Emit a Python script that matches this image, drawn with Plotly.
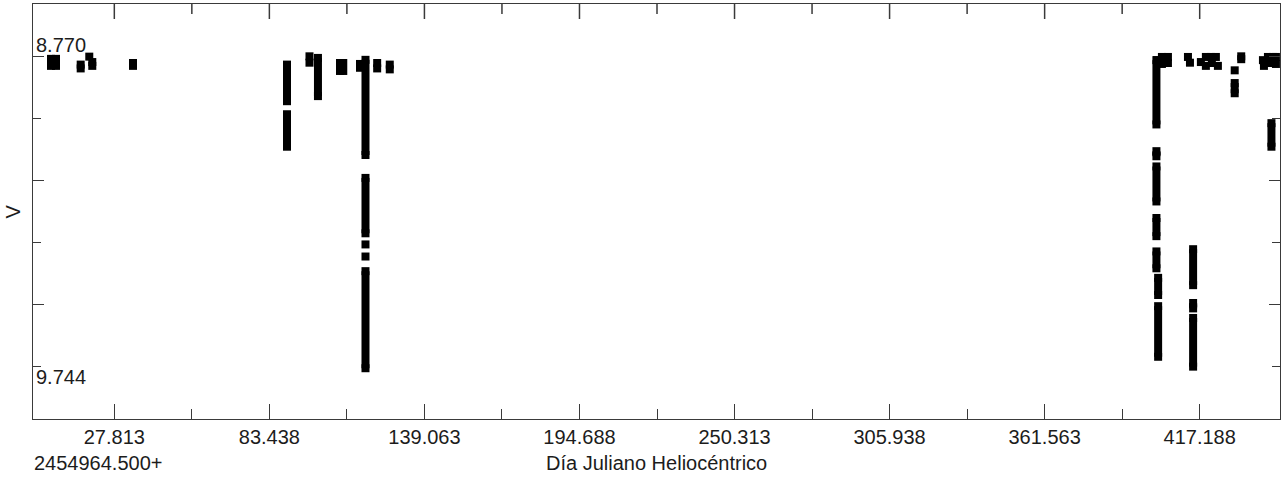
import plotly.graph_objects as go

# ---- data (HJD - 2454964.500, V magnitude) ----
pts_hjd = [5.09, 6.89, 5.09, 6.89, 15.75, 15.75, 18.83, 19.91, 19.91, 34.51, 34.51,
           97.83, 97.83, 108.77, 108.77, 109.95, 109.95, 115.94, 115.94, 117.92, 117.92,
           122.11, 122.11, 126.63, 126.63,
           401.85, 403.64, 405.80, 405.80, 403.64,
           412.98, 413.70,
           417.62, 419.41, 419.41, 421.21, 421.56, 423.00, 423.72,
           429.75, 432.09, 432.09,
           439.88, 441.67, 443.47, 444.54, 440.24, 442.39, 444.54]
pts_v = [8.779, 8.779, 8.801, 8.801, 8.797, 8.809, 8.772, 8.789, 8.801, 8.792, 8.801,
         8.771, 8.791, 8.792, 8.817, 8.792, 8.817, 8.795, 8.807, 9.362, 9.400,
         8.792, 8.809, 8.797, 8.812,
         8.783, 8.773, 8.773, 8.792, 8.795,
         8.773, 8.791,
         8.789, 8.773, 8.801, 8.773, 8.792, 8.773, 8.801,
         8.815, 8.771, 8.780,
         8.783, 8.773, 8.773, 8.773, 8.801, 8.792, 8.795]

# dense nightly runs (contiguous observations): time, first V, last V
run_hjd = [89.76, 89.76, 100.87, 117.92, 117.92, 117.92,
           401.67, 401.67, 401.67, 401.67, 401.67, 402.28, 402.28,
           429.75, 414.83, 414.83, 414.83, 442.93]
run_v_start = [8.797, 8.953, 8.776, 8.782, 9.153, 9.446,
               8.783, 9.069, 9.117, 9.279, 9.384, 9.467, 9.556,
               8.855, 9.377, 9.546, 9.593, 8.981]
run_v_end = [8.912, 9.055, 8.896, 9.081, 9.327, 9.751,
             8.985, 9.085, 9.227, 9.336, 9.437, 9.521, 9.715,
             8.887, 9.490, 9.563, 9.746, 9.055]

x_major = [27.813, 83.438, 139.063, 194.688, 250.313, 305.938, 361.563, 417.188]
x_major_labels = ["27.813", "83.438", "139.063", "194.688", "250.313", "305.938", "361.563", "417.188"]
x_minor = [55.625, 111.25, 166.875, 222.5, 278.125, 333.75, 389.375]
y_major = [8.770, 9.1596, 9.5492]
y_minor = [8.9648, 9.3544, 9.744]
y_labels = ["8.770", "9.744"]
y_label_vals = [8.770, 9.744]

x_range = [-1.36, 446.0]
y_range = [9.9105, 8.6066]

FONT = "Liberation Sans, Arial, sans-serif"
TXT = "#1c1c1c"
AX = "#3a3a3a"

fig = go.Figure()

rx, ry = [], []
for h, a, b in zip(run_hjd, run_v_start, run_v_end):
    rx += [h, h, None]
    ry += [a, b, None]

fig.add_trace(go.Scatter(x=rx, y=ry, mode="lines+markers",
                         line=dict(color="black", width=8),
                         marker=dict(symbol="square", size=8, color="black", line=dict(width=0)),
                         hoverinfo="skip", showlegend=False))
fig.add_trace(go.Scatter(x=pts_hjd, y=pts_v, mode="markers",
                         marker=dict(symbol="square", size=8, color="black", line=dict(width=0)),
                         showlegend=False))

fig.update_layout(
    width=1284, height=477,
    margin=dict(l=33, r=4, t=4, b=58),
    paper_bgcolor="white", plot_bgcolor="white",
    font=dict(family=FONT, size=20, color=TXT),
    showlegend=False,
)

fig.update_xaxes(
    range=x_range, showgrid=False, zeroline=False,
    showline=True, linecolor=AX, linewidth=1, mirror=True,
    tickmode="array", tickvals=x_major, ticktext=x_major_labels,
    ticks="inside", ticklen=15, tickcolor=AX, tickwidth=1,
    tickfont=dict(family=FONT, size=20, color=TXT),
    minor=dict(tickmode="array", tickvals=x_minor, ticks="inside", ticklen=10,
               tickcolor=AX, tickwidth=1, showgrid=False),
)
fig.update_yaxes(
    range=y_range, showgrid=False, zeroline=False,
    showline=True, linecolor=AX, linewidth=1, mirror="ticks",
    tickmode="array", tickvals=y_major, showticklabels=False,
    ticks="inside", ticklen=11, tickcolor=AX, tickwidth=1,
    minor=dict(tickmode="array", tickvals=y_minor, ticks="inside", ticklen=8,
               tickcolor=AX, tickwidth=1, showgrid=False),
)

# top-edge ticks hanging down from the frame (positions from the tick arrays)
for v in x_major:
    fig.add_shape(type="line", xref="x", yref="paper", ysizemode="pixel", yanchor=1,
                  x0=v, x1=v, y0=0, y1=-15, line=dict(color=AX, width=1.5), layer="above")
for v in x_minor:
    fig.add_shape(type="line", xref="x", yref="paper", ysizemode="pixel", yanchor=1,
                  x0=v, x1=v, y0=0, y1=-10, line=dict(color=AX, width=1.5), layer="above")

ann = []
shifts = [11, -11]
for lab, val, sh in zip(y_labels, y_label_vals, shifts):
    ann.append(dict(text=lab, xref="paper", yref="y", x=0, y=val, xanchor="left",
                    yanchor="middle", xshift=1, yshift=sh, showarrow=False,
                    font=dict(family=FONT, size=20, color=TXT)))
ann.append(dict(text="V", xref="paper", yref="paper", x=0, y=0.5, xanchor="right",
                yanchor="middle", xshift=-8, textangle=-90, showarrow=False,
                font=dict(family=FONT, size=20, color=TXT)))
ann.append(dict(text="Día Juliano Heliocéntrico", xref="paper", yref="paper", x=0.5, y=0,
                xanchor="center", yanchor="middle", yshift=-44, showarrow=False,
                font=dict(family=FONT, size=20, color=TXT)))
ann.append(dict(text="2454964.500+", xref="paper", yref="paper", x=0, y=0,
                xanchor="left", yanchor="middle", xshift=-1, yshift=-44, showarrow=False,
                font=dict(family=FONT, size=20, color=TXT)))
fig.update_layout(annotations=ann)

fig.write_html("out.html")
